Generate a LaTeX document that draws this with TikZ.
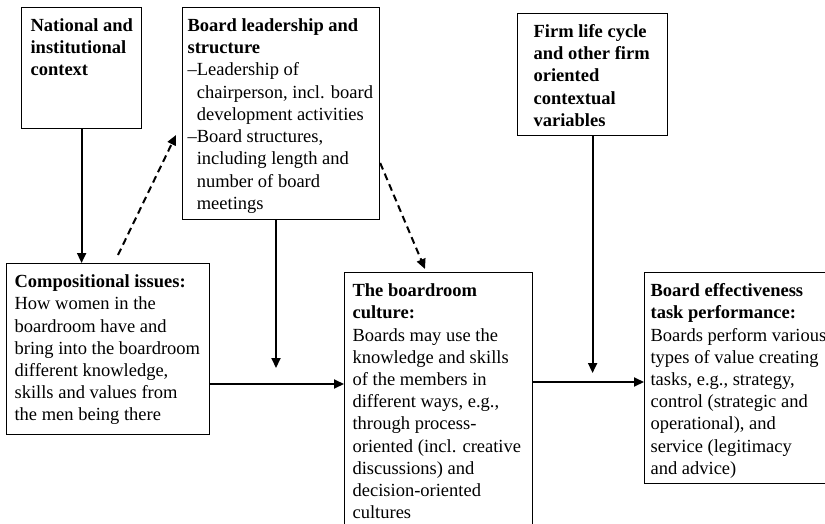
\documentclass[tikz,border=0pt]{standalone}
\usepackage{fontspec}
\setmainfont{Liberation Serif}
\usetikzlibrary{arrows.meta}
\newcommand{\boxtext}[4][7pt]{\hbox to #2{\hskip#1\vbox to #3{\hsize=10cm\parindent=0pt\raggedright\rule{0pt}{24pt}#4\par\vfil}\hss}}
\begin{document}
\begin{tikzpicture}[x=1pt,y=-1pt,
		box/.style={draw, line width=1.2pt, anchor=north west, inner sep=0pt, font=\fontsize{18.5}{22.2}\selectfont},
		arr/.style={line width=2pt, -{Triangle[length=10pt,width=9pt]}},
		darr/.style={arr, dash pattern=on 7pt off 4.5pt}]
			\useasboundingbox (0,0) rectangle (825,524);
			\node [box] (nat) at (21,7) {\boxtext[9pt]{120pt}{121pt}{\textbf{National and\\institutional\\context}}};
			\node [box] (lead) at (182,7) {\boxtext[5pt]{197pt}{212pt}{\textbf{Board leadership and\\structure}\\–Leadership of\\\phantom{–}chairperson, incl. board\\\phantom{–}development activities\\–Board structures,\\\phantom{–}including length and\\\phantom{–}number of board\\\phantom{–}meetings}};
			\node [box] (firm) at (517,13) {\boxtext[16pt]{150pt}{122pt}{\textbf{Firm life cycle\\and other firm\\oriented\\contextual\\variables}}};
			\node [box] (comp) at (6,263) {\boxtext[8pt]{203pt}{171pt}{\textbf{Compositional issues:}\\How women in the\\boardroom have and\\bring into the boardroom\\different knowledge,\\skills and values from\\the men being there}};
			\node [box] (cult) at (344,272) {\boxtext[8pt]{188pt}{270pt}{\textbf{The boardroom\\culture:}\\Boards may use the\\knowledge and skills\\of the members in\\different ways, e.g.,\\through process-\\oriented (incl. creative\\discussions) and\\decision-oriented\\cultures}};
			\node [box] (eff) at (644,272) {\boxtext[6pt]{200pt}{211pt}{\textbf{Board effectiveness\\task performance:}\\Boards perform various\\types of value creating\\tasks, e.g., strategy,\\control (strategic and\\operational), and\\service (legitimacy\\and advice)}};
			\coordinate (dashA) at (118,255);
			\coordinate (dashB) at (176,135);
			\coordinate (dashC) at (380,163);
			\coordinate (dashD) at (425,269);
			\coordinate (leadtip) at (276,368);
			\coordinate (rowA) at (276,384);
			\coordinate (firmtip) at (592,373);
			\coordinate (rowB) at (592,382);
			\draw [arr] (nat.south) -- (nat.south |- comp.north);
			\draw [darr] (dashA) -- (dashB);
			\draw [darr] (lead.east |- dashC) -- (dashD);
			\draw [arr] (lead.south -| leadtip) -- (leadtip);
			\draw [arr] (comp.east |- rowA) -- (cult.west |- rowA);
			\draw [arr] (firm.south) -- (firm.south |- firmtip);
			\draw [arr] (cult.east |- rowB) -- (eff.west |- rowB);
		\end{tikzpicture}
\end{document}
